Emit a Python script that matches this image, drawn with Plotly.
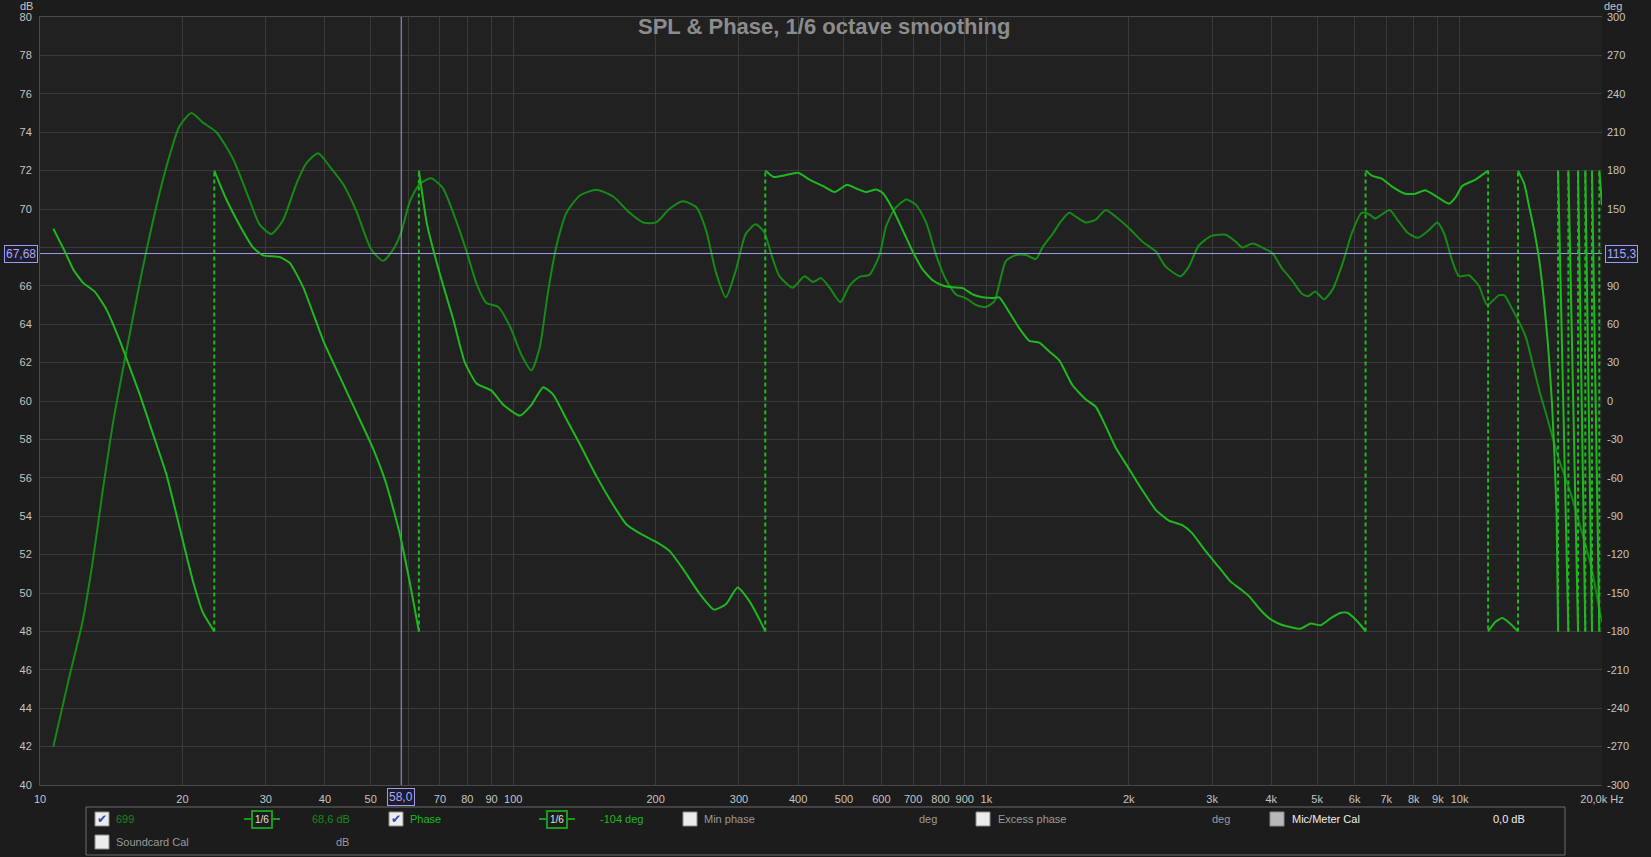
import math
import plotly.graph_objects as go

# SPL of measurement "699", 1/6 octave smoothing (Hz, dB)
spl_freq = [10.67, 11.5, 12.3, 12.9, 13.6, 14.3, 15.2, 16.2, 17.3, 18.5, 19.7, 20.9, 22.1,
            23.6, 25.6, 27.7, 29.1, 30.8, 32.6, 34.8, 36.6, 38.7, 41.0, 43.7, 46.6, 50.1,
            53.1, 55.8, 58.0, 60.5, 63.4, 67.1, 71.0, 74.7, 79.7, 83.7, 87.8, 93.0, 98.4,
            104.1, 109.3, 113.8, 118.5, 123.5, 129.6, 138.3, 149.9, 162.6, 176.3, 188.1,
            200.5, 213.9, 228.3, 243.6, 255.6, 268.2, 281.5, 295.4, 310.0, 325.4, 339.0,
            353.7, 365.3, 389.8, 412.7, 430.0, 447.7, 466.3, 491.7, 513.5, 539, 566, 594.5,
            614, 640, 677, 711, 746, 783, 822, 863, 906, 951, 998, 1040, 1065, 1100, 1155,
            1212, 1273, 1314, 1380, 1437, 1497, 1546, 1623, 1703, 1788, 1877, 2003, 2137,
            2280, 2393, 2573, 2679, 2811, 2990, 3205, 3365, 3475, 3653, 3894, 4024, 4218,
            4422, 4636, 4790, 4949, 5173, 5389, 5649, 5922, 6208, 6466, 6625, 6838, 7118,
            7412, 7779, 8164, 8615, 8971, 9268, 9650, 9968, 10460, 10985, 11439, 12097,
            12440, 12850, 13310, 13820, 14270, 14740, 15230, 15730, 16250, 16790, 17350,
            17920, 18510, 19120, 19760, 20000]
spl_db = [42.0, 45.5, 48.5, 51.5, 55.5, 59.0, 62.5, 66.0, 69.3, 72.2, 74.3, 75.0, 74.5,
          74.0, 72.6, 70.5, 69.2, 68.7, 69.4, 71.3, 72.4, 72.9, 72.2, 71.3, 69.9, 67.9,
          67.3, 67.9, 68.8, 70.4, 71.3, 71.6, 71.1, 69.8, 67.8, 66.1, 65.1, 64.9, 63.9,
          62.4, 61.6, 62.8, 65.7, 68.1, 69.8, 70.7, 71.0, 70.65, 69.8, 69.3,
          69.3, 70.0, 70.4, 70.1, 68.9, 66.7, 65.4, 66.8, 68.7, 69.2, 68.8,
          67.4, 66.5, 65.9, 66.5, 66.2, 66.4, 65.9, 65.15, 66.0, 66.47, 66.57, 67.6,
          69.1, 70.0, 70.5, 70.2, 69.3, 67.6, 66.3, 65.55, 65.35, 65.0, 64.9, 65.2, 66.1, 67.3, 67.6,
          67.6, 67.4, 68.0, 68.7, 69.35, 69.8, 69.6, 69.3, 69.45, 69.95, 69.6, 69.0, 68.3,
          67.8, 67.0, 66.5, 67.0, 68.1, 68.6, 68.66, 68.3, 68.0, 68.2, 67.9, 67.7, 66.9,
          66.3, 65.6, 65.45, 65.7, 65.3, 65.8, 67.1, 68.75, 69.8, 69.7, 69.5, 69.7, 69.95,
          69.4, 68.75, 68.5, 68.9, 69.3, 68.75, 67.3, 66.5, 66.55, 66.0, 65.0, 65.5,
          65.5, 64.9, 64.2, 63.3, 61.95, 60.55, 59.35, 58.1, 56.9, 55.9, 54.85,
          53.6, 52.4, 51.0, 49.1, 48.5]

# phase (deg), wrapped to +/-180; a wrap is two points at the same frequency
phase_freq = [10.67, 11.29, 11.76, 12.34, 13.06, 13.82, 14.75, 15.24, 16.25, 17.34, 18.5,
              19.74, 21.06, 22.1, 23.35, 23.35, 24.7, 26.4, 28.2, 29.6, 32.1, 33.7, 36.0,
              39.7, 43.0, 46.6, 50.5, 53.9, 57.5, 60.4, 62.9, 63.2, 63.2, 65.8, 69.9, 74.7,
              79.0, 83.7, 90.0, 95.3, 103.3, 109.3, 115.7, 121.4, 129.6, 138.3, 149.9, 162.6,
              173.4, 184.8, 200.5, 213.9, 228.3, 247.6, 265.9, 281.5, 298.0, 315.1, 330.8,
              341.0, 341.0, 355, 375.4, 400, 422.8, 451.3, 478.1, 507.9, 531, 557, 585, 604,
              634, 666, 699, 734, 770, 809, 849, 891, 936, 982, 1031, 1065, 1118, 1174, 1232,
              1294, 1358, 1426, 1521, 1623, 1703, 1788, 1877, 2003, 2137, 2280, 2431, 2594,
              2721, 2904, 3097, 3275, 3463, 3601, 3784, 3975, 4176, 4387, 4610, 4843, 5088,
              5346, 5617, 5800, 5985, 6183, 6330, 6330, 6543, 6860, 7201, 7680, 8063, 8460,
              8877, 9496, 9807, 10130, 10810, 11350, 11490, 11490, 11910, 12300, 12710, 13290,
              13290, 13700, 14040, 14380, 14740, 15100, 15410, 15680, 15880, 16040, 16150,
              16150, 16980, 16980, 17800, 17800, 18440, 18440, 19050, 19050, 19740, 19740,
              20000]
phase_deg = [134.7, 116.7, 102.8, 92.3, 85.3, 71.4, 47.0, 33.0, 5.2, -26.1, -57.4,
             -99.2, -141, -165.4, -180, 180, 158.4, 137.5, 120, 113.8, 112.5, 108, 88.8,
             47, 19, -8.7, -36.6, -64.5, -102.8, -141, -175.8, -180, 180, 137.5, 100, 63.8,
             30.3, 13.6, 8.1, -3, -11.4, -3, 10.8, 5.2, -14.2, -33.6, -58.7, -81,
             -96.3, -103.2, -110.1, -117.1, -131, -150.4, -163, -158.8, -145.8, -156, -170,
             -180, 180, 175, 176.4, 178.3, 173.0, 168, 163.3, 168.9, 166, 163.3, 165.3, 162.5,
             150, 133.3, 116.6, 102.6, 94.3, 90.2, 88.8, 88.2, 83.2, 81, 80.4, 81, 69.3, 56.8, 47,
             45.6, 38.7, 31.7, 12.3, 1.1, -4.5, -19.8, -36.5, -53.1, -69.8, -85, -93.5, -97,
             -103.2, -117.1, -129.6, -140.7, -147.7, -153, -162.7, -170.2, -174.4, -176.6, -178, -173.8, -175.2,
             -169.6, -165.4, -165.4, -169.6, -175.2, -180, 180, 175.8, 173.6, 167.5, 161.9, 161.9, 164.7,
             160.5, 154.1, 159.1, 168, 173, 178.6, 180, -180, -172.4, -169.6, -173, -180,
             180, 169.6, 151.4, 133.2, 109.8, 76, 39.6, -2, -46.1, -90.3, -180,
             180, -180, 180, -180, 180, -180, 180, -180, 180, -180, 180,
             153]

cursor_freq = 58.0
cursor_db = 67.68
cursor_deg = 115.3

x_ticks = [10, 20, 30, 40, 50, 60, 70, 80, 90, 100, 200, 300, 400, 500, 600, 700, 800, 900,
           1000, 2000, 3000, 4000, 5000, 6000, 7000, 8000, 9000, 10000, 20000]
# "60" sits under the cursor readout box, so it is left blank
x_labels = ["10", "20", "30", "40", "50", "", "70", "80", "90", "100", "200", "300", "400",
            "500", "600", "700", "800", "900", "1k", "2k", "3k", "4k", "5k", "6k", "7k", "8k",
            "9k", "10k", "20,0k Hz"]
db_ticks = list(range(40, 81, 2))
deg_ticks = list(range(-300, 301, 30))
# labels hidden under the cursor readouts
db_labels = ["" if v == 68 else str(v) for v in db_ticks]
deg_labels = ["" if v == 120 else str(v) for v in deg_ticks]

SPL_COLOR = "#168a16"
PHASE_COLOR = "#1fb81f"
GRID = "#3a3a3a"
TEXT = "#c4c4c4"
CURSOR = "#9c9cf0"
FONT = "Liberation Sans"

# split phase into solid segments + dashed wrap lines
solid_x, solid_y, wrap_x, wrap_y = [], [], [], []
for i, (f, p) in enumerate(zip(phase_freq, phase_deg)):
    if i > 0 and f == phase_freq[i - 1]:
        solid_x.append(None)
        solid_y.append(None)
        wrap_x += [f, f, None]
        wrap_y += [phase_deg[i - 1], p, None]
    solid_x.append(f)
    solid_y.append(p)

fig = go.Figure()
fig.add_trace(go.Scatter(x=spl_freq, y=spl_db, mode="lines",
                         line=dict(color=SPL_COLOR, width=2, shape="spline", smoothing=0.6)))
fig.add_trace(go.Scatter(x=solid_x, y=solid_y, yaxis="y2", mode="lines",
                         line=dict(color=PHASE_COLOR, width=2, shape="spline", smoothing=0.5)))
fig.add_trace(go.Scatter(x=wrap_x, y=wrap_y, yaxis="y2", mode="lines",
                         line=dict(color=PHASE_COLOR, width=2, dash="4px,3px")))
# cursor
fig.add_trace(go.Scatter(x=[cursor_freq, cursor_freq], y=[40, 80], mode="lines",
                         line=dict(color=CURSOR, width=1)))
fig.add_trace(go.Scatter(x=[10, 20000], y=[cursor_db, cursor_db], mode="lines",
                         line=dict(color=CURSOR, width=1)))

W, H = 1651, 857
L, R, T, B = 40, 1602, 17, 785


def px(x):
    return (x - L) / (R - L)


def py(y):
    return (B - y) / (B - T)


ann = []
shapes = []


def text(x, y, s, color, size=11, anchor="left", bold=False):
    ann.append(dict(xref="paper", yref="paper", x=px(x), y=py(y), text=f"<b>{s}</b>" if bold else s,
                    showarrow=False, xanchor=anchor, yanchor="middle",
                    font=dict(family=FONT, size=size, color=color)))


def checkbox(x, y, checked, fill="#ececec"):
    shapes.append(dict(type="rect", xref="paper", yref="paper", x0=px(x - 7), x1=px(x + 7),
                       y0=py(y + 7), y1=py(y - 7), fillcolor=fill, line=dict(color="#8a8a8a", width=1)))
    if checked:
        text(x, y, "✔", "#2c48b8", size=12, anchor="center")


def smoothing_icon(x, y):
    shapes.append(dict(type="line", xref="paper", yref="paper", x0=px(x - 18), x1=px(x + 18),
                       y0=py(y), y1=py(y), line=dict(color="#1a9a1a", width=2)))
    ann.append(dict(xref="paper", yref="paper", x=px(x), y=py(y), text="1/6", showarrow=False,
                    xanchor="center", yanchor="middle", bgcolor="#1c1c1c", bordercolor="#1a9a1a",
                    borderwidth=2, borderpad=2, font=dict(family=FONT, size=10, color="#e0e0e0")))


# title and axis units
text(825, 26, "SPL & Phase, 1/6 octave smoothing", "#8c8c8c", size=22, anchor="center", bold=True)
text(26, 6, "dB", TEXT, anchor="center")
text(1613, 6, "deg", TEXT, anchor="center")

# legend panel
shapes.append(dict(type="rect", xref="paper", yref="paper", x0=px(86), x1=px(1565),
                   y0=py(855), y1=py(807), line=dict(color="#6a6a6a", width=1), fillcolor="#1c1c1c",
                   layer="below"))
r1, r2 = 819, 842
checkbox(102, r1, True)
text(114, r1, "699", SPL_COLOR)
smoothing_icon(262, r1)
text(331, r1, "68,6 dB", SPL_COLOR, anchor="center")
checkbox(396, r1, True)
text(408, r1, "Phase", PHASE_COLOR)
smoothing_icon(557, r1)
text(621, r1, "-104 deg", PHASE_COLOR, anchor="center")
checkbox(690, r1, False)
text(702, r1, "Min phase", "#9a9a9a")
text(928, r1, "deg", "#9a9a9a", anchor="center")
checkbox(983, r1, False)
text(996, r1, "Excess phase", "#9a9a9a")
text(1221, r1, "deg", "#9a9a9a", anchor="center")
checkbox(1277, r1, False, fill="#b8b8b8")
text(1290, r1, "Mic/Meter Cal", "#eeeeee")
text(1509, r1, "0,0 dB", "#eeeeee", anchor="center")
checkbox(102, r2, False)
text(114, r2, "Soundcard Cal", "#9a9a9a")
text(342, r2, "dB", "#9a9a9a", anchor="center")

# cursor readout boxes
box = dict(showarrow=False, bgcolor="#1c1c2a", bordercolor=CURSOR, borderwidth=1, borderpad=1,
           font=dict(family=FONT, size=12, color="#a8a8ff"))
ann.append(dict(xref="paper", yref="y", x=0, y=cursor_db, text=f"{cursor_db:.2f}".replace(".", ","),
                xanchor="right", yanchor="middle", xshift=-2, **box))
ann.append(dict(xref="paper", yref="y", x=1, y=cursor_db, text=f"{cursor_deg:.1f}".replace(".", ","),
                xanchor="left", yanchor="middle", xshift=3, **box))
ann.append(dict(xref="x", yref="paper", x=math.log10(cursor_freq), y=py(797),
                text=f"{cursor_freq:.1f}".replace(".", ","), xanchor="center", yanchor="middle", **box))

fig.update_layout(
    width=W, height=H,
    margin=dict(l=L, r=W - R, t=T, b=H - B),
    paper_bgcolor="#1c1c1c", plot_bgcolor="#212121",
    showlegend=False,
    font=dict(family=FONT, size=11, color=TEXT),
    xaxis=dict(type="log", range=[1, math.log10(20000)], tickvals=x_ticks, ticktext=x_labels,
               showgrid=True, gridcolor=GRID, gridwidth=1, zeroline=False, showline=True,
               linecolor="#4a4a4a", mirror=True, ticks="", ticklabelstandoff=4,
               tickfont=dict(size=11, color=TEXT)),
    yaxis=dict(range=[40, 80], tickvals=db_ticks, ticktext=db_labels, showgrid=True,
               gridcolor=GRID, gridwidth=1, zeroline=False, showline=True, linecolor="#4a4a4a",
               ticks="", ticklabelstandoff=5, tickfont=dict(size=11, color=TEXT)),
    yaxis2=dict(range=[-300, 300], tickvals=deg_ticks, ticktext=deg_labels, overlaying="y",
                side="right", showgrid=False, zeroline=False, ticks="", ticklabelstandoff=4,
                tickfont=dict(size=11, color=TEXT)),
    annotations=ann, shapes=shapes,
)

fig.write_html("out.html", config={"displayModeBar": False},
               post_script="document.body.style.margin='0';")
